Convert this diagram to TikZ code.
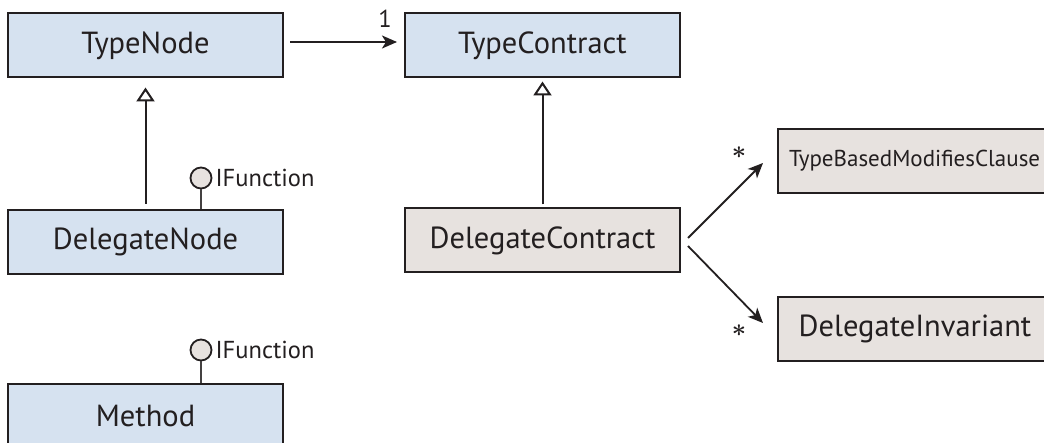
\documentclass[tikz,border=0pt]{standalone}
\usepackage{fontspec}
\setmainfont{PT Sans}
\usetikzlibrary{arrows.meta}
\definecolor{boxblue}{HTML}{D6E2F0}
\definecolor{boxgray}{HTML}{E7E2DF}
\definecolor{ink}{HTML}{231F20}
\newcommand\bigf{\fontsize{30.5pt}{36pt}\selectfont}
\newcommand\smallf{\fontsize{24.5pt}{29pt}\selectfont}
\newcommand\clausef{\fontsize{23pt}{27pt}\selectfont}
\newcommand\starf{\fontsize{33pt}{38pt}\selectfont\boldmath}
\begin{document}
\begin{tikzpicture}[x=1pt,y=-1pt,
  cls/.style={draw=ink, line width=2pt, minimum width=275pt, minimum height=64pt, inner sep=0pt, font=\bigf, text=ink},
  bluecls/.style={cls, fill=boxblue},
  graycls/.style={cls, fill=boxgray},
  lolly/.style={circle, draw=ink, line width=1.8pt, fill=boxgray, minimum size=21pt, inner sep=0pt},
  stem/.style={draw=ink!85, line width=2pt},
  lbl/.style={font=\smallf, text=ink, inner sep=0pt},
  inh/.style={draw=ink, line width=2pt, -{Triangle[open, length=14pt, width=18pt, line join=miter]}},
  assoc/.style={draw=ink, line width=1.8pt, -{Stealth[length=15pt, width=13pt, inset=4pt]}},
  mult/.style={font=\starf, text=ink, inner sep=0pt, anchor=center}
]
\clip (0,0) rectangle (1044,443);
\fill[white] (0,0) rectangle (1044,443);

\node[bluecls] (tn) at (145.5,45.5) {TypeNode};
\node[bluecls] (tc) at (542.5,45.5) {TypeContract};
\node[bluecls] (dn) at (145.5,242) {DelegateNode};
\node[graycls] (dc) at (542.5,240.5) {DelegateContract};
\node[bluecls] (me) at (145.5,416) {Method};
\node[graycls, minimum width=274pt, font=\clausef, text width=252pt, align=left] (tb) at (915,161) {TypeBasedModifiesClause};
\node[graycls, minimum width=274pt] (di) at (915,329) {DelegateInvariant};

% association TypeNode -> TypeContract
\draw[assoc] ([shift={(6,-3.5)}]tn.east) -- ([shift={(-7,-3.5)}]tc.west);
\node[lbl, anchor=base] (m1) at (385,28) {1};

% generalizations
\draw[inh] ([shift={(0,-5)}]dn.north) -- ([shift={(0,9)}]tn.south);
\draw[inh] ([shift={(0,-3)}]dc.north) -- ([shift={(0,3)}]tc.south);

% interfaces
\node[lolly] (c1) at (201,178) {};
\draw[stem] (c1.south) -- (dn.north -| c1.south);
\node[lbl, anchor=west] (l1) at ([xshift=3pt]c1.east) {IFunction};

\node[lolly] (c2) at (201,350) {};
\draw[stem] (c2.south) -- (me.north -| c2.south);
\node[lbl, anchor=west] (l2) at ([xshift=3pt]c2.east) {IFunction};

% contract associations
\draw[assoc] ([shift={(7,-2.5)}]dc.east) -- ([shift={(-14,2)}]tb.west);
\draw[assoc] ([shift={(7,5.5)}]dc.east) -- ([shift={(-14,-6)}]di.west);
\node[mult] (s1) at (739,153) {$\ast$};
\node[mult] (s2) at (739,331) {$\ast$};
\end{tikzpicture}
\end{document}
